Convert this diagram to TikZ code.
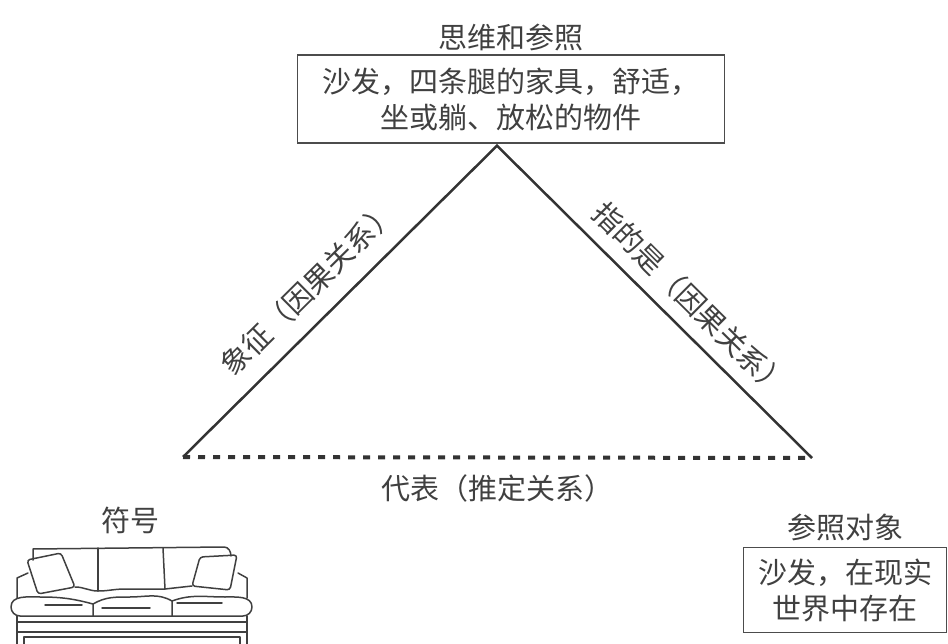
\documentclass[tikz,border=0pt]{standalone}
\usepackage{fontspec}
\setmainfont{Noto Sans CJK SC}
\usetikzlibrary{positioning}

\begin{document}
\begin{tikzpicture}[
  x=1pt, y=-1pt,
  font=\fontsize{29}{36}\selectfont,
  every node/.style={text=black!75},
  concept/.style={
    draw=black!70,
    line width=1.4pt,
    align=center,
    inner sep=4pt
  },
  relation/.style={line width=2.5pt,draw=black!80,line join=miter},
  assumed/.style={line width=4pt,draw=black!80,dash pattern=on 7pt off 8pt},
  rellabel/.style={sloped},
  sofaline/.style={line width=1.5pt,draw=black!75,line join=round,line cap=round}
]
  \useasboundingbox (0,0) rectangle (948,644);

  % Thought or reference at the top.
  \node[concept,minimum width=427pt,minimum height=88pt] (mind) at (511,99) {
    沙发，四条腿的家具，舒适，\\
    坐或躺、放松的物件
  };
  \node[above=0pt of mind] (mindtitle) {思维和参照};

  % Referent on the right.
  \node[concept,minimum width=203pt,minimum height=85pt] (referent) at (845,590) {
    沙发，在现实\\
    世界中存在
  };
  \node[above=2pt of referent] (referenttitle) {参照对象};

  % Symbol on the left.
  \node (symboltitle) at (130,520) {符号};

  % The triangle.
  \coordinate (apex) at ([xshift=-14pt,yshift=-2pt]mind.south);
  \coordinate (symcorner) at (183,457);
  \coordinate (refcorner) at (812,458);

  \draw[relation] (symcorner)
    -- node[rellabel,above=13pt,pos=0.47] {象征（因果关系）} (apex)
    -- node[rellabel,above=9pt,pos=0.555] {指的是（因果关系）} (refcorner);
  \draw[assumed] (symcorner) -- node[below=12pt] {代表（推定关系）} (refcorner);

  % Sofa drawing.
  \begin{scope}[sofaline]
    % back and its cushions
    \draw (33,560) -- (33,549) -- (224,547) to[out=0,in=90] (231,556);
    \draw (98,548) -- (98,591);
    \draw (163,548) -- (165,589);
    % pillows
    \draw[rounded corners=3pt] (27,560) -- (61,553) -- (75,587) -- (38,594) -- cycle;
    \draw[rounded corners=3pt] (200,557) -- (237,555) -- (230,590) -- (192,586) -- cycle;
    % arms
    \draw (17,598) -- (17,578) -- (28,573);
    \draw (247,598) -- (247,578) -- (238,573);
    \draw (75,587) to[out=0,in=180] (98,591) to[out=0,in=180] (125,589) to[out=0,in=180] (165,589) -- (192,586);
    % seat cushions
    \draw (93,604) to[out=165,in=0] (40,597) to[out=180,in=90] (11,607)
      to[out=-90,in=180] (20,616) -- (243,616) to[out=0,in=-90] (252,607)
      to[out=90,in=0] (225,597) to[out=180,in=20] (172,601);
    \draw (93,616) -- (93,604) to[out=30,in=180] (130,597) to[out=0,in=150] (172,601) -- (172,616);
    \draw (45,605) -- (82,605);
    \draw (102,608) -- (150,608);
    \draw (177,603) -- (222,603);
    % base
    \draw (17,616) -- (17,644);
    \draw (247,616) -- (247,644);
    \draw (17,622) -- (247,622);
    \draw (17,632) -- (247,632);
    \draw (24,644) -- (24,637) -- (240,637) -- (240,644);
  \end{scope}
\end{tikzpicture}
\end{document}
